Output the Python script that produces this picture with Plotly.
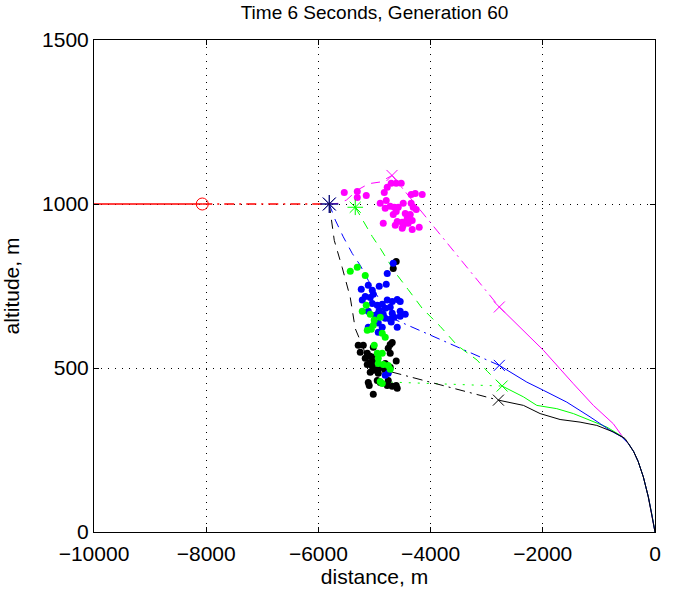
import plotly.graph_objects as go

# ---------------- data ----------------
x_ticks = [-10000, -8000, -6000, -4000, -2000, 0]
x_tick_text = ["\u221210000", "\u22128000", "\u22126000", "\u22124000", "\u22122000", "0"]
y_ticks = [0, 500, 1000, 1500]
y_tick_text = ["0", "500", "1000", "1500"]

# red (approach) path
red_solid_x = [-10000, -8070]
red_solid_y = [1000, 1000]
red_dashdot_x = [-8070, -5806]
red_dashdot_y = [1000, 1000]
red_circle = ([-8070], [1000])

start_star = ([-5806], [1000])
green_star = ([-5343], [990])

# magenta
mag_dash_x = [-5806, -5650, -5500, -5300, -5100, -4900, -4688]
mag_dash_y = [1000, 1002, 1012, 1043, 1062, 1067, 1087]
mag_dashdot_x = [-4688, -2775]
mag_dashdot_y = [1087, 686]
mag_solid_x = [-2775, -1989, -1455, -1099, -743, -534, -475, -380, -300, -208, -119, -59, 0]
mag_solid_y = [686, 554, 452, 386, 330, 280, 270, 245, 215, 168, 107, 56, 0]
mag_x_marks = ([-4688, -2775], [1087, 686])
mag_dots_x = [-5539, -5307, -5307, -5147, -4826, -4773, -4702, -4613, -4524, -4346, -4274, -4150,
              -4791, -4898, -4488, -4346, -4310, -4256, -4809, -4648, -4720, -4613, -4666, -4577,
              -4452, -4363, -4417, -4328, -4506, -4595, -4488, -4399, -4506, -4328, -4203, -4844, -4630]
mag_dots_y = [1035, 1038, 1020, 1026, 1035, 1051, 1063, 1063, 1063, 1029, 1032, 1029,
              1011, 1002, 1002, 1002, 990, 983, 987, 990, 993, 977, 968, 990,
              971, 968, 956, 950, 944, 947, 935, 941, 926, 922, 929, 941, 935]

# blue
blue_dash_x = [-5806, -5699, -5557, -5396, -5254, -5111, -4933, -4720]
blue_dash_y = [1000, 951, 900, 849, 813, 767, 715, 654]
blue_dashdot_x = [-4720, -2775]
blue_dashdot_y = [654, 508]
blue_solid_x = [-2775, -2285, -1989, -1573, -1158, -801, -593, -475, -380, -300, -208, -119, -59, 0]
blue_solid_y = [508, 457, 432, 396, 351, 310, 290, 270, 245, 215, 168, 107, 56, 0]
blue_x_marks = ([-2775], [508])
blue_dots_x = [-4773, -5111, -4916, -4791, -5236, -5040, -5022, -5076, -5165, -5218, -4773, -4684,
               -4595, -4542, -5040, -4951, -4862, -4809, -4720, -4916, -5111, -4987, -4933, -4844,
               -4684, -4542, -4452, -4809, -4720, -4648, -4542, -4933, -4862, -5111, -4702, -4595,
               -4933, -4666, -4809, -4755]
blue_dots_y = [788, 752, 749, 755, 740, 737, 725, 715, 718, 707, 707, 703,
               709, 703, 697, 691, 694, 682, 685, 676, 673, 661, 667, 664,
               667, 673, 664, 652, 649, 655, 658, 637, 624, 624, 640, 624,
               609, 819, 478, 484]

# green
green_dash_x = [-5343, -5165, -5040, -4898, -4791, -4630, -4399, -4150, -3829, -3526, -3170, -2990, -2725]
green_dash_y = [990, 935, 901, 865, 834, 791, 739, 682, 627, 569, 524, 490, 445]
green_dot_x = [-4870, -2725]
green_dot_y = [458, 445]
green_solid_x = [-2725, -2345, -2107, -1751, -1455, -1158, -860, -593, -475, -380, -300, -208, -119, -59, 0]
green_solid_y = [445, 412, 386, 376, 361, 341, 320, 292, 270, 245, 215, 168, 107, 56, 0]
green_x_marks = ([-2725], [445])
green_dots_x = [-5432, -5307, -5165, -5147, -5218, -5076, -5005, -4898, -5022, -5129, -5058, -4809, -4862,
                -5005, -4951, -4933, -4862, -4933, -4844, -4755, -4720, -4898, -4862]
green_dots_y = [795, 807, 782, 691, 673, 664, 646, 655, 630, 615, 618, 594, 606,
                569, 545, 530, 545, 514, 511, 508, 496, 459, 453]

# black
black_dash_x = [-5806, -5717, -5575, -5432, -5343, -5218, -5076]
black_dash_y = [1000, 889, 806, 715, 620, 569, 505]
black_dashdot_x = [-5076, -2791]
black_dashdot_y = [505, 402]
black_solid_x = [-2791, -2345, -2048, -1692, -1336, -1038, -743, -534, -475, -380, -300, -208, -119, -59, 0]
black_solid_y = [402, 386, 361, 343, 335, 325, 305, 285, 270, 245, 215, 168, 107, 56, 0]
black_x_marks = ([-2791], [402])
black_dots_x = [-4613, -4666, -5200, -5254, -5022, -4720, -4755, -4684, -5129, -5076, -5022, -5165,
                -4720, -5076, -4987, -5129, -5040, -4809, -4613, -4862, -5022, -4933, -5076, -4809,
                -4933, -5111, -5094, -4951, -4898, -4755, -4773, -4684, -4613, -4595, -5022, -5290, -4720]
black_dots_y = [825, 803, 569, 548, 563, 572, 560, 578, 545, 536, 533, 530,
                545, 517, 517, 511, 505, 514, 521, 502, 493, 496, 487, 493,
                484, 456, 447, 462, 456, 462, 447, 444, 447, 438, 420, 569, 502]

# ---------------- figure ----------------
RED, MAG, BLUE, GREEN, BLACK = "#ff0000", "#ff00ff", "#0000ff", "#00ff00", "#000000"
DASH = "9px,7px"
DASHDOT = "10px,5px,2px,5px"

fig = go.Figure()


def line(x, y, color, dash="solid", width=1):
    fig.add_trace(go.Scatter(x=x, y=y, mode="lines", line=dict(color=color, width=width, dash=dash),
                             showlegend=False, hoverinfo="skip"))


def dots(x, y, color):
    fig.add_trace(go.Scatter(x=x, y=y, mode="markers", marker=dict(color=color, size=7, line=dict(width=0)),
                             showlegend=False, hoverinfo="skip"))


def marks(xy, color, symbol, size):
    fig.add_trace(go.Scatter(x=xy[0], y=xy[1], mode="markers",
                             marker=dict(symbol=symbol, size=size, color=color, line=dict(color=color, width=1)),
                             showlegend=False, hoverinfo="skip"))


line(red_solid_x, red_solid_y, RED, width=1.5)
line(red_dashdot_x, red_dashdot_y, RED, DASHDOT, width=1.5)

line(mag_dash_x, mag_dash_y, MAG, DASH)
line(mag_dashdot_x, mag_dashdot_y, MAG, DASHDOT)
line(mag_solid_x, mag_solid_y, MAG)

line(green_dash_x, green_dash_y, GREEN, DASH)
line(green_dot_x, green_dot_y, GREEN, "2px,7px")
line(green_solid_x, green_solid_y, GREEN)

line(blue_dash_x, blue_dash_y, BLUE, DASH)
line(blue_dashdot_x, blue_dashdot_y, BLUE, DASHDOT)
line(blue_solid_x, blue_solid_y, BLUE)

line(black_dash_x, black_dash_y, BLACK, DASH)
line(black_dashdot_x, black_dashdot_y, BLACK, DASHDOT)
line(black_solid_x, black_solid_y, BLACK)

dots(black_dots_x, black_dots_y, BLACK)
dots(blue_dots_x, blue_dots_y, BLUE)
dots(green_dots_x, green_dots_y, GREEN)
dots(mag_dots_x, mag_dots_y, MAG)

marks(red_circle, RED, "circle-open", 12)
marks(green_star, GREEN, "asterisk-open", 13)
marks(start_star, BLUE, "asterisk-open", 15)
marks(start_star, "#10104a", "asterisk-open", 15)
marks(mag_x_marks, MAG, "x-thin-open", 11)
marks(blue_x_marks, BLUE, "x-thin-open", 11)
marks(green_x_marks, GREEN, "x-thin-open", 11)
marks(black_x_marks, BLACK, "x-thin-open", 11)

FONT = "Liberation Sans, Arial, sans-serif"
axis_common = dict(
    showline=True, linecolor="black", linewidth=1, mirror="ticks",
    ticks="inside", ticklen=5, tickcolor="black", tickwidth=1,
    showgrid=True, gridcolor="black", gridwidth=1, griddash="1px,6px",
    zeroline=False, automargin=False,
    tickfont=dict(family=FONT, size=21, color="black"),
)

W, H = 685, 589
fig.update_layout(
    width=W, height=H,
    margin=dict(l=94, r=30, t=40, b=57),
    paper_bgcolor="white", plot_bgcolor="white",
    title=dict(text="Time 6 Seconds, Generation 60", x=374.5 / W, xanchor="center",
               y=1 - 12 / H, yanchor="middle",
               font=dict(family=FONT, size=19, color="black")),
    xaxis=dict(range=[-10000, 0], tickvals=x_ticks, ticktext=x_tick_text, ticklabelstandoff=3,
               title=dict(text="distance, m", font=dict(family=FONT, size=21, color="black"), standoff=3),
               **axis_common),
    yaxis=dict(range=[0, 1500], tickvals=y_ticks, ticktext=y_tick_text,
               title=dict(text="altitude, m", font=dict(family=FONT, size=21, color="black"), standoff=16),
               **axis_common),
)

# remove the default page margin so the figure sits at the window's top-left corner
fig.write_html("out.html", config={"displayModeBar": False},
               post_script="document.body.style.margin='0';")
